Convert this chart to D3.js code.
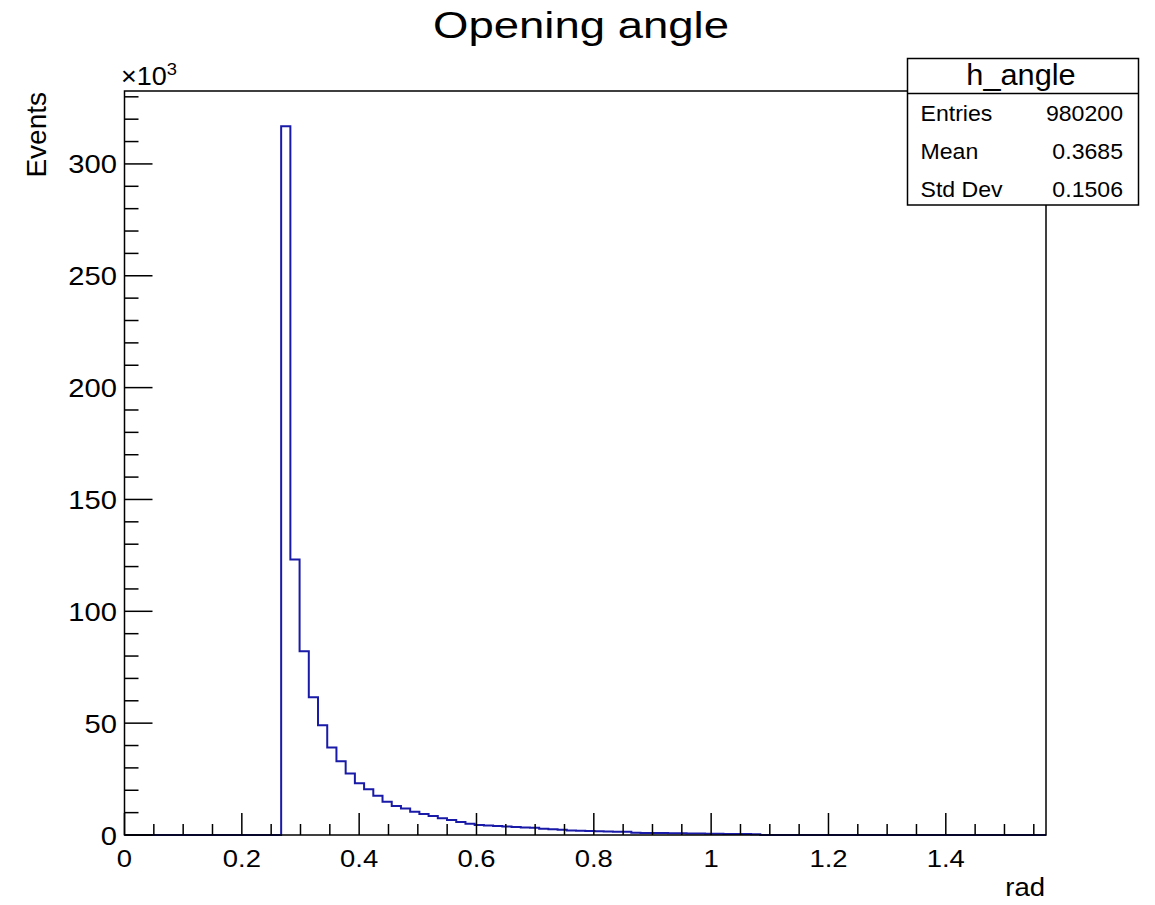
<!DOCTYPE html>
<html><head><meta charset="utf-8">
<script src="https://cdn.jsdelivr.net/npm/d3@7/dist/d3.min.js"></script>
<style>
html,body{margin:0;padding:0;background:#fff;}
svg{display:block;font-family:"Liberation Sans",Arial,Helvetica,sans-serif;}
</style></head>
<body>
<svg id="chart" width="1155" height="905"></svg>
<script>
// ---- data (counts in thousands, 100 bins over [0, pi/2]) ----
const histName = "h_angle";
const chartTitle = "Opening angle";
const xTitle = "rad";
const yTitle = "Events";
const xMin = 0, xMax = Math.PI / 2, nBins = 100;
const binCounts = [
  0,0,0,0,0,0,0,0,0,0,0,0,0,0,0,0,0,
  316.8,123.2,82.1,61.6,49.1,39.1,33.0,27.5,23.1,20.5,17.6,14.9,
  13.0,11.8,10.4,9.4,8.5,7.5,6.7,5.8,5.0,4.5,4.2,4.0,
  3.8,3.6,3.4,3.2,2.8,2.6,2.4,2.0,1.9,1.8,1.7,1.6,
  1.5,1.4,1.0,0.95,0.9,0.85,0.8,0.75,0.7,0.65,0.6,0.55,
  0.5,0.45,0.4,0.35,
  0,0,0,0,0,0,0,0,0,0,0,0,0,0,0,0,0,0,0,0,0,0,0,0,0,0,0,0,0,0,0
];
const yMaxDomain = 332.6;
const xMajorTicks = [0, 0.2, 0.4, 0.6, 0.8, 1.0, 1.2, 1.4];
const xTickLabels = ["0", "0.2", "0.4", "0.6", "0.8", "1", "1.2", "1.4"];
const yMajorTicks = [0, 50, 100, 150, 200, 250, 300];
const yTickLabels = ["0", "50", "100", "150", "200", "250", "300"];
const statsNames = ["Entries", "Mean", "Std Dev"];
const statsValues = ["980200", "0.3685", "0.1506"];

// ---- layout ----
const L = 124.5, R = 1046, T = 91, B = 835;
const blue = "#1a1aa8";
const svg = d3.select("#chart");

const x = d3.scaleLinear().domain([xMin, xMax]).range([L, R]);
const y = d3.scaleLinear().domain([0, yMaxDomain]).range([B, T]);

function txt(parent, px, py, str, size, anchor, sx, extra) {
  const g = parent.append("g").attr("transform", `translate(${px},${py}) scale(${sx},1)`);
  const t = g.append("text").attr("x", 0).attr("y", 0)
    .attr("font-size", size).attr("text-anchor", anchor).attr("fill", "#000").text(str);
  if (extra) extra(t, g);
  return t;
}

// histogram outline
const binW = (xMax - xMin) / nBins;
const pts = binCounts.map((c, i) => [xMin + i * binW, c]);
pts.push([xMax, binCounts[nBins - 1]]);
const line = d3.line().x(d => x(d[0])).y(d => y(d[1])).curve(d3.curveStepAfter);
svg.append("path").attr("d", line(pts)).attr("fill", "none")
  .attr("stroke", blue).attr("stroke-width", 2);

// frame
svg.append("rect").attr("x", L).attr("y", T).attr("width", R - L).attr("height", B - T)
  .attr("fill", "none").attr("stroke", "#000").attr("stroke-width", 1.5);

// x ticks
const xMinor = d3.range(0, 1.5708, 0.05).map(v => +v.toFixed(2));
svg.append("g").selectAll("line").data(xMinor).join("line")
  .attr("x1", d => x(d)).attr("x2", d => x(d))
  .attr("y1", B).attr("y2", d => (Math.abs(d / 0.2 - Math.round(d / 0.2)) < 1e-6) ? B - 22 : B - 11)
  .attr("stroke", "#000").attr("stroke-width", 1.5);
const xl = svg.append("g");
xMajorTicks.forEach((v, i) => txt(xl, x(v), 867, xTickLabels[i], 24.5, "middle", 1.12));

// y ticks
const yMinor = d3.range(0, 331, 10);
svg.append("g").selectAll("line").data(yMinor).join("line")
  .attr("y1", d => y(d)).attr("y2", d => y(d))
  .attr("x1", L).attr("x2", d => d % 50 === 0 ? L + 28 : L + 14)
  .attr("stroke", "#000").attr("stroke-width", 1.5);
const yl = svg.append("g");
yMajorTicks.forEach((v, i) => txt(yl, 117, y(v) + 9.5, yTickLabels[i], 26.5, "end", 1.1));

// exponent label x10^3
txt(svg, 121, 85, "\u00d710", 25, "start", 1.08, t => {
  t.append("tspan").attr("font-size", 17).attr("dy", -10).text("3");
});

// axis titles
txt(svg, 1045, 896, xTitle, 25, "end", 1.1);
svg.append("g").attr("transform", `translate(46,92) rotate(-90)`)
  .append("text").attr("x", 0).attr("y", 0).attr("font-size", 28)
  .attr("text-anchor", "end").attr("fill", "#000").text(yTitle);

// title
txt(svg, 581, 38, chartTitle, 36, "middle", 1.0, t => {
  t.attr("textLength", 296).attr("lengthAdjust", "spacingAndGlyphs");
});

// stats box
const bx = 907.5, by = 58.5, bw = 231, bh = 146.5;
svg.append("rect").attr("x", bx).attr("y", by).attr("width", bw).attr("height", bh)
  .attr("fill", "#fff").attr("stroke", "#000").attr("stroke-width", 1.5);
svg.append("line").attr("x1", bx).attr("x2", bx + bw).attr("y1", 93.5).attr("y2", 93.5)
  .attr("stroke", "#000").attr("stroke-width", 1.5);
txt(svg, 1021, 85, histName, 29, "middle", 1.06);
const rowY = [120.5, 159, 196.5];
statsNames.forEach((n, i) => {
  txt(svg, 920.5, rowY[i], n, 22, "start", 1.05);
  txt(svg, 1123, rowY[i], statsValues[i], 22, "end", 1.05);
});
</script>
</body></html>
